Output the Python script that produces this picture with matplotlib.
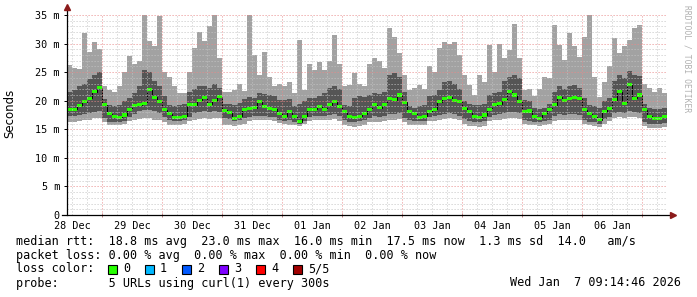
import matplotlib
matplotlib.use("Agg")
import matplotlib.pyplot as plt
from matplotlib.patches import Rectangle
import numpy as np

# 2-hour bins starting Dec 28 10:00 (hours counted from Dec 28 00:00)
first_bin = 10
bin_h = 2

# rtt in ms, per bin: slowest / 2nd / median / 4th / fastest of 5 probes
ping_max = [26.3, 25.8, 25.5, 31.8, 28.5, 30.2, 29.0, 22.5, 21.8, 21.5,
            22.5, 25.0, 27.8, 26.5, 27.0, 35.0, 30.5, 29.5, 34.8, 25.0,
            24.2, 22.5, 21.3, 21.3, 25.0, 29.3, 32.0, 30.5, 33.0, 35.0,
            27.5, 21.5, 21.6, 21.8, 23.0, 21.7, 35.0, 28.0, 24.5, 28.5,
            24.2, 22.5, 23.0, 22.5, 23.3, 21.3, 30.6, 21.9, 26.5, 25.4,
            26.8, 25.4, 27.0, 31.5, 26.5, 22.5, 22.8, 24.8, 23.0, 22.5,
            26.5, 27.4, 27.0, 25.7, 32.7, 31.2, 28.3, 24.5, 21.9, 22.3,
            22.8, 22.0, 26.0, 25.0, 29.2, 30.3, 30.0, 30.3, 28.0, 24.5,
            22.8, 21.0, 24.5, 23.3, 29.8, 25.0, 30.0, 27.4, 28.9, 33.5,
            27.4, 21.9, 22.0, 20.8, 22.0, 24.2, 24.0, 33.3, 29.8, 27.2,
            31.8, 29.5, 27.7, 31.2, 35.0, 24.2, 20.7, 23.3, 26.0, 30.9,
            28.3, 29.5, 30.6, 32.7, 33.3, 23.0, 22.2, 21.6, 22.2, 21.3]

ping_hi = [21.5, 21.8, 22.5, 23.0, 23.8, 24.5, 25.0, 20.3, 19.2, 19.0,
           19.3, 20.0, 20.5, 21.3, 22.5, 25.4, 25.0, 23.5, 22.5, 20.8,
           19.3, 19.0, 19.2, 19.5, 21.5, 22.0, 22.5, 22.5, 22.3, 23.0,
           22.2, 19.5, 19.4, 19.2, 19.6, 20.3, 20.6, 20.5, 21.3, 21.2,
           21.0, 20.8, 20.2, 20.1, 20.3, 19.0, 19.5, 20.0, 20.4, 20.5,
           20.8, 21.3, 22.3, 22.5, 22.0, 19.2, 19.0, 20.5, 20.8, 20.6,
           21.0, 21.3, 21.2, 21.6, 24.5, 24.8, 24.2, 21.5, 19.0, 18.8,
           19.0, 19.2, 20.8, 21.0, 21.8, 23.3, 23.5, 23.0, 22.0, 20.0,
           19.4, 19.2, 19.3, 19.5, 21.0, 21.3, 21.6, 23.5, 24.2, 24.5,
           24.0, 20.2, 20.0, 18.8, 18.6, 18.8, 19.5, 21.5, 22.5, 22.0,
           22.6, 22.8, 22.3, 20.5, 19.2, 19.0, 18.8, 20.0, 20.5, 23.5,
           24.5, 24.0, 25.2, 24.5, 24.3, 19.5, 18.8, 18.5, 18.6, 18.8]

median = [18.5, 18.5, 19.1, 19.8, 20.4, 21.6, 22.3, 19.3, 17.7, 17.3,
          17.1, 17.5, 18.4, 19.1, 19.3, 19.5, 21.9, 20.6, 19.8, 18.4,
          17.7, 17.1, 17.1, 17.3, 19.3, 19.3, 20.1, 20.6, 19.4, 20.0,
          20.7, 18.3, 17.9, 16.9, 17.3, 18.5, 18.7, 18.8, 19.8, 19.0,
          18.7, 18.5, 17.8, 17.3, 18.1, 17.2, 16.3, 17.3, 18.5, 18.5,
          19.0, 18.4, 19.3, 19.8, 19.0, 18.1, 17.3, 17.1, 17.3, 17.7,
          18.4, 19.3, 18.8, 19.4, 20.4, 20.2, 21.0, 19.7, 18.1, 17.8,
          17.1, 17.3, 18.1, 18.5, 19.8, 20.4, 20.6, 20.1, 19.8, 18.7,
          18.1, 17.3, 17.1, 17.5, 18.4, 19.3, 19.5, 20.2, 21.6, 21.0,
          19.8, 18.1, 18.2, 17.3, 16.9, 17.8, 18.4, 19.3, 20.6, 20.0,
          20.4, 20.6, 20.4, 18.4, 17.7, 17.2, 16.7, 18.1, 18.7, 20.2,
          21.6, 19.5, 22.8, 20.4, 21.0, 18.4, 17.3, 16.9, 16.9, 17.3]

ping_lo = [17.3, 17.3, 17.5, 17.6, 17.8, 18.0, 18.2, 17.0, 16.3, 16.2,
           16.2, 16.4, 17.2, 17.6, 18.2, 18.4, 18.4, 18.2, 17.8, 17.2,
           16.7, 16.5, 16.5, 16.7, 17.2, 17.8, 18.0, 18.2, 18.0, 18.2,
           18.0, 16.9, 16.8, 16.5, 16.7, 17.0, 17.2, 17.3, 17.4, 17.3,
           17.2, 17.1, 16.7, 16.5, 16.6, 16.3, 16.0, 16.5, 17.2, 17.3,
           17.4, 17.3, 17.5, 17.6, 17.3, 16.6, 16.3, 16.2, 16.4, 16.6,
           17.0, 17.3, 17.2, 17.4, 17.6, 17.7, 17.8, 17.0, 16.6, 16.5,
           16.4, 16.5, 17.2, 17.3, 17.5, 17.7, 17.8, 17.6, 17.4, 16.8,
           16.4, 16.2, 16.2, 16.4, 17.2, 17.5, 17.6, 17.8, 18.0, 18.1,
           17.8, 16.6, 16.5, 16.3, 16.2, 16.4, 16.7, 17.3, 17.6, 17.5,
           17.7, 17.6, 17.5, 16.6, 16.3, 16.2, 16.0, 16.8, 17.2, 17.8,
           18.0, 17.9, 18.2, 18.0, 17.8, 16.3, 16.0, 15.9, 16.0, 16.1]

ping_min = [16.3, 16.3, 16.4, 16.6, 16.7, 16.9, 17.0, 16.2, 15.8, 15.7,
            15.7, 15.9, 16.5, 16.7, 16.8, 16.9, 16.9, 16.7, 16.6, 16.2,
            15.8, 15.7, 15.7, 15.9, 16.5, 16.7, 16.8, 16.9, 16.8, 16.9,
            16.9, 15.8, 15.7, 15.6, 15.7, 16.0, 16.5, 16.6, 16.7, 16.6,
            16.6, 16.5, 16.1, 15.9, 15.8, 15.7, 15.5, 15.9, 16.5, 16.6,
            16.7, 16.6, 16.7, 16.8, 16.5, 15.8, 15.5, 15.4, 15.5, 15.7,
            16.2, 16.3, 16.3, 16.4, 16.6, 16.7, 16.8, 16.2, 15.8, 15.7,
            15.7, 15.8, 16.4, 16.5, 16.7, 16.8, 16.9, 16.8, 16.6, 16.0,
            15.6, 15.5, 15.4, 15.6, 16.4, 16.6, 16.7, 16.8, 17.0, 17.0,
            16.8, 15.9, 15.8, 15.7, 15.6, 15.7, 16.0, 16.5, 16.7, 16.6,
            16.7, 16.7, 16.6, 16.0, 15.7, 15.6, 15.4, 16.0, 16.4, 16.9,
            17.1, 17.0, 17.2, 17.1, 16.9, 15.6, 15.3, 15.2, 15.3, 15.4]

day_labels = ['28 Dec', '29 Dec', '30 Dec', '31 Dec', '01 Jan',
              '02 Jan', '03 Jan', '04 Jan', '05 Jan', '06 Jan']
y_ticks = [0, 5, 10, 15, 20, 25, 30, 35]
y_labels = ['0', '5 m', '10 m', '15 m', '20 m', '25 m', '30 m', '35 m']

loss_labels = ['0', '1', '2', '3', '4', '5/5']
loss_colors = ['#26ff00', '#00b8ff', '#0059ff', '#7e00ff', '#ff0000', '#a00000']

stats_line = ("median rtt:  18.8 ms avg  23.0 ms max  16.0 ms min  "
              "17.5 ms now  1.3 ms sd  14.0   am/s")
loss_line = "packet loss: 0.00 % avg  0.00 % max  0.00 % min  0.00 % now"
probe_line = "probe:       5 URLs using curl(1) every 300s"
stamp = "Wed Jan  7 09:14:46 2026"

plt.rcParams['font.family'] = 'DejaVu Sans Mono'

W, H = 697, 297
fig = plt.figure(figsize=(W / 100, H / 100), dpi=100)
fig.patch.set_facecolor('white')
ax = fig.add_axes([67 / W, (H - 215) / H, 600 / W, 200 / H])

n = len(median)
edges = first_bin + bin_h * np.arange(n + 1)
med = np.array(median)

# smoke
ax.stairs(ping_max, edges, baseline=ping_min, fill=True, color='#a2a2a2', lw=0, zorder=2)
ax.stairs(ping_hi, edges, baseline=ping_lo, fill=True, color='#555555', lw=0, zorder=3)
# median
ax.stairs(med, edges, baseline=None, color='black', lw=0.7, zorder=4)
ax.stairs(med + 0.27, edges, baseline=med - 0.27, fill=True, color=loss_colors[0], lw=0, zorder=5)

x0, x1 = edges[0], edges[-1]
ax.set_xlim(x0, x1)
ax.set_ylim(0, 35)

# dotted grid, drawn over the data like rrdtool
dots = (0, (1.2, 1.8))
for v in range(1, 36):
    major = v % 5 == 0
    ax.axhline(v, color='#e88a8a' if major else '#c4c4c4', alpha=0.8,
               lw=0.72, ls=dots, zorder=6)
for h in range(12, int(x1), 6):
    major = h % 24 == 0
    ax.axvline(h, color='#e88a8a' if major else '#c4c4c4', alpha=0.8,
               lw=0.72, ls=dots, zorder=6)

for s in ax.spines.values():
    s.set_visible(False)

# axes with arrows
ax.plot([0, 0], [0, 1.035], transform=ax.transAxes, color='black', lw=0.9, clip_on=False, zorder=7)
ax.plot([-5 / 600, 1.008], [0, 0], transform=ax.transAxes, color='black', lw=0.9, clip_on=False, zorder=7)
ax.plot(0, 1.04, marker='^', ms=4, color='#8b1a1a', transform=ax.transAxes, clip_on=False, zorder=8)
ax.plot(1.01, 0, marker='>', ms=4, color='#8b1a1a', transform=ax.transAxes, clip_on=False, zorder=8)

ax.set_yticks(y_ticks, y_labels)
ax.tick_params(axis='y', direction='out', length=2.2, width=0.7, pad=2.9, labelsize=7.3)
midnights = list(range(24, int(x1) + 1, 24))
ax.set_xticks(midnights, [''] * len(midnights))
ax.set_xticks([12 + 24 * k for k in range(len(day_labels))], day_labels, minor=True)
ax.tick_params(axis='x', which='major', direction='inout', length=3, width=0.7, color='#c08080')
ax.tick_params(axis='x', which='minor', length=0, pad=4, labelsize=7.3)

fig.text(10 / W, 1 - 113 / H, 'Seconds', rotation=90, ha='center', va='center',
         family='DejaVu Sans', fontsize=8.5)
fig.text(687 / W, 1 - 5 / H, 'RRDTOOL / TOBI OETIKER', rotation=270, ha='center', va='top',
         fontsize=5.8, color='#b0b0b0')


def px(x, y):
    return x / W, 1 - y / H


fs = 8.5
fig.text(*px(16, 241.5), stats_line, va='center', fontsize=fs)
fig.text(*px(16, 255), loss_line, va='center', fontsize=fs)
fig.text(*px(16, 269), 'loss color:', va='center', fontsize=fs)
for k, (lab, col) in enumerate(zip(loss_labels, loss_colors)):
    bx = 108 + 37 * k
    fig.add_artist(Rectangle(px(bx, 273.5), 9 / W, 9 / H, transform=fig.transFigure,
                             facecolor=col, edgecolor='black', lw=0.8))
    fig.text(*px(bx + 15, 269), lab, va='center', fontsize=fs)
fig.text(*px(16, 283), probe_line, va='center', fontsize=fs)
fig.text(*px(681, 283), stamp, va='center', ha='right', fontsize=fs)

fig.savefig('out.png', dpi=100)
